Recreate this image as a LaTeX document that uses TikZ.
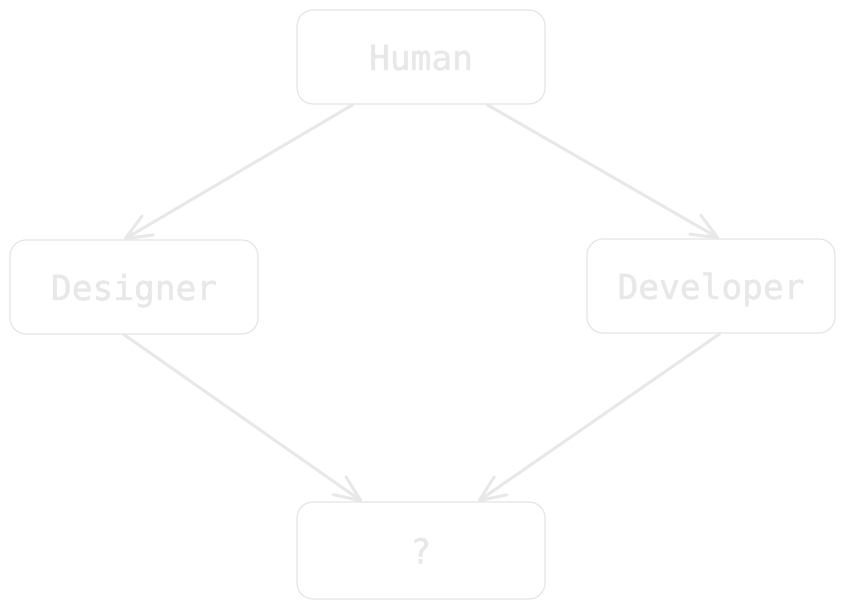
\documentclass[tikz,border=0pt]{standalone}
\usepackage{fontspec}
\newfontfamily\cardfont{DejaVu Sans Mono}[UprightFeatures={FakeBold=1.3}]
\usetikzlibrary{arrows.meta}
\definecolor{boxline}{HTML}{E6E6E6}
\definecolor{txt}{HTML}{E8E8E8}
\definecolor{arr}{HTML}{E8E8E8}
\tikzset{
  card/.style={draw=boxline, line width=1.2pt, rounded corners=16pt, fill=white,
    minimum width=248pt, minimum height=94pt, inner sep=0pt,
    text height=26pt, text depth=0pt,
    text=txt, font=\cardfont\fontsize{34.5}{37}\selectfont},
  link/.style={draw=arr, line width=3pt, line cap=round,
    -{Straight Barb[length=26pt, width=22pt, line width=3pt, round]}}
}
\begin{document}
\begin{tikzpicture}[x=1pt, y=-1pt]
\useasboundingbox[fill=white] (0,0) rectangle (845,609);
\node[card] (human) at (421,57) {Human};
\node[card] (designer) at (134,287) {Designer};
\node[card] (developer) at (711,286) {Developer};
\node[card, minimum height=97pt] (q) at (421,550.5) {?};
\draw[link] ([xshift=-68pt]human.south) -- ([xshift=-10pt]designer.north);
\draw[link] ([xshift=66pt]human.south) -- ([xshift=8pt]developer.north);
\draw[link] ([xshift=-10pt]designer.south) -- ([xshift=-59pt]q.north);
\draw[link] ([xshift=9pt]developer.south) -- ([xshift=57pt]q.north);
\end{tikzpicture}
\end{document}
